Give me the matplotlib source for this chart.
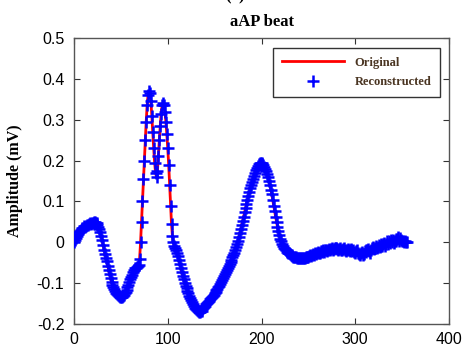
import numpy as np
import matplotlib
matplotlib.use("Agg")
import matplotlib.pyplot as plt

# ---- data ----
original = [
    0.000, 0.005, 0.010, 0.015, 0.020, 0.024, 0.028, 0.030, 0.032, 0.034,
    0.036, 0.039, 0.038, 0.041, 0.043, 0.042, 0.044, 0.046, 0.045, 0.047,
    0.048, 0.050, 0.050, 0.048, 0.046, 0.043, 0.038, 0.032, 0.025, 0.016,
    0.005, -0.006, -0.018, -0.028, -0.038, -0.047, -0.058, -0.068, -0.078, -0.088,
    -0.097, -0.104, -0.110, -0.115, -0.119, -0.123, -0.126, -0.129, -0.131, -0.133,
    -0.134, -0.133, -0.131, -0.128, -0.125, -0.121, -0.116, -0.110, -0.104, -0.098,
    -0.091, -0.085, -0.079, -0.073, -0.068, -0.064, -0.062, -0.060, -0.058, -0.055,
    -0.040, 0.000, 0.050, 0.100, 0.155, 0.200, 0.250, 0.295, 0.335, 0.360,
    0.370, 0.365, 0.345, 0.310, 0.270, 0.230, 0.195, 0.170, 0.160, 0.175,
    0.210, 0.250, 0.285, 0.315, 0.335, 0.340, 0.335, 0.320, 0.295, 0.265,
    0.230, 0.190, 0.140, 0.090, 0.045, 0.015, 0.000, -0.008, -0.014, -0.020,
    -0.026, -0.034, -0.043, -0.053, -0.063, -0.073, -0.082, -0.091, -0.099, -0.106,
    -0.113, -0.119, -0.125, -0.131, -0.137, -0.142, -0.147, -0.152, -0.156, -0.160,
    -0.163, -0.166, -0.168, -0.170, -0.170, -0.169, -0.167, -0.164, -0.161, -0.158,
    -0.155, -0.152, -0.149, -0.146, -0.143, -0.140, -0.137, -0.134, -0.131, -0.128,
    -0.124, -0.121, -0.117, -0.114, -0.110, -0.106, -0.102, -0.098, -0.093, -0.088,
    -0.083, -0.078, -0.073, -0.068, -0.063, -0.058, -0.053, -0.048, -0.043, -0.037,
    -0.031, -0.025, -0.019, -0.012, -0.005, 0.003, 0.012, 0.022, 0.032, 0.043,
    0.053, 0.063, 0.074, 0.084, 0.094, 0.104, 0.114, 0.123, 0.132, 0.140,
    0.148, 0.156, 0.163, 0.170, 0.176, 0.182, 0.187, 0.191, 0.194, 0.195,
    0.194, 0.192, 0.189, 0.185, 0.180, 0.174, 0.167, 0.159, 0.150, 0.140,
    0.129, 0.117, 0.104, 0.090, 0.076, 0.063, 0.050, 0.038, 0.027, 0.017,
    0.009, 0.002, -0.004, -0.009, -0.013, -0.017, -0.020, -0.023, -0.025, -0.027,
    -0.029, -0.031, -0.032, -0.034, -0.035, -0.036, -0.037, -0.037, -0.038, -0.038,
    -0.039, -0.039, -0.038, -0.039, -0.039, -0.038, -0.038, -0.037, -0.036, -0.036,
    -0.035, -0.033, -0.032, -0.034, -0.031, -0.029, -0.030, -0.027, -0.028, -0.026,
    -0.024, -0.027, -0.025, -0.022, -0.024, -0.021, -0.019, -0.023, -0.020, -0.018,
    -0.021, -0.019, -0.016, -0.020, -0.017, -0.015, -0.018, -0.016, -0.013, -0.015,
    -0.014, -0.017, -0.019, -0.016, -0.013, -0.018, -0.020, -0.017, -0.015, -0.019,
    -0.021, -0.018, -0.016, -0.020, -0.022, -0.019, -0.017, -0.021, -0.019, -0.023,
    -0.026, -0.022, -0.020, -0.025, -0.028, -0.031, -0.027, -0.024, -0.031, -0.029,
    -0.022, -0.018, -0.024, -0.020, -0.016, -0.021, -0.025, -0.019, -0.014, -0.012,
    -0.017, -0.013, -0.009, -0.015, -0.011, -0.006, -0.012, -0.008, -0.003, -0.010,
    -0.005, -0.001, -0.008, -0.003, 0.002, -0.004, 0.003, -0.002, 0.005, 0.001,
    0.006, -0.001, 0.004, 0.009, 0.003, 0.008, 0.012, 0.004, 0.010, 0.006,
    0.002, 0.004, 0.001, 0.003, 0.000, 0.001,
]
reconstructed = list(original)
samples = list(range(len(original)))

x_ticks = [0, 100, 200, 300, 400]
y_ticks = [-0.2, -0.1, 0, 0.1, 0.2, 0.3, 0.4, 0.5]
y_tick_labels = ["-0.2", "-0.1", "0", "0.1", "0.2", "0.3", "0.4", "0.5"]

plt.rcParams['font.family'] = ['Liberation Sans', 'DejaVu Sans']

fig = plt.figure(figsize=(4.64, 3.5), dpi=100)
ax = fig.add_axes([74/464, 1-324/350, (449-74)/464, (324-38)/350])

ax.plot(samples, original, color='red', lw=2, label='Original', zorder=2)
ax.plot(samples, reconstructed, linestyle='none', marker='+', color='blue',
        markersize=8.5, markeredgewidth=1.8, label='Reconstructed', zorder=3)

ax.set_xlim(0, 400)
ax.set_ylim(-0.2, 0.5)
ax.set_xticks(x_ticks)
ax.set_yticks(y_ticks)
ax.set_yticklabels(y_tick_labels)
ax.tick_params(direction='in', top=True, right=True, labelsize=11.5, length=4,
               color='#333333')
ax.tick_params(axis='x', pad=6)
ax.tick_params(axis='y', pad=7)
for s in ax.spines.values():
    s.set_color('#555555')
    s.set_linewidth(1.0)

serif = ['Liberation Serif', 'DejaVu Serif']
ax.set_title('aAP beat', fontfamily=serif, fontweight='bold', fontsize=12, pad=9)
ax.set_ylabel('Amplitude (mV)', fontfamily=serif, fontweight='bold', fontsize=11.5, labelpad=10)
fig.text(248/464, 1 - 4/350, '(c) 3.2', fontfamily=serif, fontweight='bold',
         fontsize=12, ha='center', va='bottom')

leg = ax.legend(loc='upper right', bbox_to_anchor=(440/464, 1-48/350),
                bbox_transform=fig.transFigure, fancybox=False, framealpha=1,
                edgecolor='#333333', prop={'family': serif, 'weight': 'bold', 'size': 9},
                handlelength=5.0, borderpad=0.7, labelspacing=0.6, handletextpad=0.8,
                borderaxespad=0)
leg.get_frame().set_linewidth(1.0)
for t in leg.get_texts():
    t.set_color('#4a3522')

fig.savefig('out.png', dpi=100)
